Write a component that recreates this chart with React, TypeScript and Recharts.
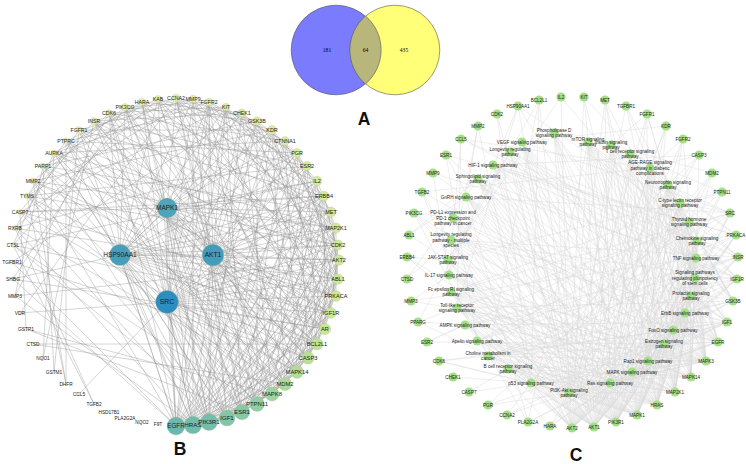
import { ScatterChart, Scatter, XAxis, YAxis, ReferenceLine } from 'recharts';

// Venn counts
const vennSets = [
  { x: 336, y: 50, label: '181', labelX: 327 },
  { x: 395, y: 50, label: '435', labelX: 404 },
];
const vennOverlap = [{ x: 365.5, y: 50, label: '64' }];
const panelLetters = [
  { x: 364, y: 125, label: 'A' },
  { x: 180, y: 455, label: 'B' },
  { x: 576, y: 461, label: 'C' },
];

// Panel B: degree sorted ring, counter-clockwise from EGFR
const bNames = ['EGFR','HRAS','PIK3R1','IGF1','ESR1','PTPN11','MAPK8','MDM2','MAPK14','CASP3','BCL2L1','AR','IGF1R','PRKACA','ABL1','AKT2','CDK2','MAP2K1','MET','ERBB4','IL2','ESR2','PGR','CTNNA1','KDR','GSK3B','CHEK1','KIT','FGFR2','MMP9','CCNA2','KAB','HARA','PIK3CG','CDK6','INSR','FGFR1','PTPRC','AURKA','PARP1','MMP2','TYMS','CASP7','RXRB','CTSL','TGFBR1','SHBG','MMP3','VDR','GSTP1','CTSD','NQO1','GSTM1','DHFR','CCL5','TGFB2','HSD17B1','PLA2G2A','NQO2','F9T'];
const bX = [176,193,209,227,242,257,272,285,297,308,317,325,331,336,338,339,338,336,331,324,317,307,297,285,272,257,242,226,209,193,176,158,142,125,109,94,79,66,54,43,33,27,20,15,13,12,13,15,20,26,33,43,54,66,79,94,109,125,142,158];
const bY = [426,425,422,418,412,404,394,384,372,358,344,329,313,296,279,260,245,228,212,196,181,166,153,141,130,121,113,107,102,99,98,99,102,107,113,121,130,141,153,166,181,196,212,228,245,262,279,296,313,329,344,358,372,384,394,404,412,418,422,424];
const bDegree = [40,39,38,35,34,32,30,28,27,26,25,23,22,22,21,21,20,20,20,19,19,18,18,17,17,16,15,14,14,14,14,13,13,13,12,12,12,11,11,10,10,9,8,8,7,6,6,5,4,4,3,2,2,1,1,0,0,0,0,0];

const bHubNames = ['MAPK1','HSP90AA1','AKT1','SRC'];
const bHubX = [167,120,213,167];
const bHubY = [208,255,255,302];
const bHubDegree = [45,48,49,52];
const bHubLinks = [
  [0,1,2,3,4,5,6,7,8,9,10,11,12,14,16,17,18,19,20,23,24,26,28,30,32,33,35,37,38,42],
  [0,1,2,3,4,5,7,9,10,11,12,13,14,15,16,17,18,19,21,22,24,25,26,27,29,31,33,34,38,39,46],
  [0,1,2,3,4,5,6,7,8,9,10,11,12,13,15,16,17,18,19,20,21,22,23,25,26,27,28,30,31,33,35,40],
  [0,1,2,3,4,5,6,7,8,9,10,11,12,13,14,15,16,17,18,19,20,22,24,25,27,28,29,32,34,37,48,54],
];
const bRingLinks = [
  [3,5,7,9,11,13,14,16,18,19,21,24,27,28,31,34,36,40,45,46],
  [3,4,6,8,10,12,15,17,20,23,25,29,33,37,43,47],
  [4,6,9,12,14,16,19,22,26,28,32,35,39,42],
  [5,7,10,13,15,18,21,24,29,34,38,41,44],
  [7,8,11,14,17,20,23,27,30,33,36,49],
  [8,10,13,16,19,22,25,28,31,35,40,44],
  [9,12,15,18,21,26,30,37,41,49],
  [10,14,17,20,24,27,32,38,43,50],
  [11,13,16,19,23,29,34,39,42],
  [12,15,18,22,25,30,33,36,45],
  [14,17,21,24,28,31,37,41,50],
  [15,19,23,26,29,35,40,46],
  [16,20,24,27,32,38,44],
  [17,21,25,30,34,39,42],
  [18,22,26,31,36,43],
  [19,23,28,33,37,47],
  [24,27,29,35,41],
  [20,25,30,38,40],
  [22,26,32,34,39],
  [27,31,36,42],
  [24,28,33,44],
  [26,30,35,41],
  [25,29,37,43],
  [28,34,38],
  [31,36,40],
  [30,33,39],
  [32,35,45],
  [34,37,42],
  [33,38],
  [36,41],
  [35,39,48],
  [37,43],
  [38,44],
  [40,46],
  [41,47],
  [42,51],
  [43,52],
  [41,53],
  [44,51],
  [47,52],
  [53],
  [53],
  [49],
  [55],
  [55],
  [],
];

// Panel C: genes clockwise from IL2
const cGenes = ['IL2','KIT','MET','TGFBR1','FGFR1','KDR','FGFR2','CASP3','MDM2','PTPN11','SRC','PRKACA','INSR','IGF1R','GSK3B','IGF1','EGFR','MAPK3','MAPK14','MAP2K1','HRAS','MAPK1','PIK3R1','AKT1','AKT2','HARA','PLA2G2A','CCNA2','PGR','CASP7','CHEK1','CDK6','ESR2','PPARG','MMP3','CTSD','ERBB4','ABL1','PIK3CG','TGFB2','MMP9','ESR1','CCL5','MMP2','CDK2','HSP90AA1','BCL2L1'];
const cGeneX = [561,584,605,626,647,666,683,699,712,722,730,736,738,737,733,727,718,706,691,675,657,637,616,594,572,550,528,507,488,469,453,439,427,418,411,407,407,409,414,422,433,446,461,478,497,518,539];
const cGeneY = [97,97,100,106,114,126,139,155,173,192,213,235,257,279,301,322,342,361,377,392,405,415,422,427,428,426,422,415,405,392,377,361,342,322,301,279,257,235,213,192,173,155,139,126,114,106,100];
const cPathways = [
  ['Phospholipase D','signaling pathway'],
  ['VEGF signaling pathway'],
  ['Longevity regulating','pathway'],
  ['HIF-1 signaling pathway'],
  ['Sphingolipid signaling','pathway'],
  ['GnRH signaling pathway'],
  ['PD-L1 expression and','PD-1 checkpoint','pathway in cancer'],
  ['Longevity regulating','pathway - multiple','species'],
  ['JAK-STAT signaling','pathway'],
  ['IL-17 signaling pathway'],
  ['Fc epsilon RI signaling','pathway'],
  ['Toll-like receptor','signaling pathway'],
  ['AMPK signaling pathway'],
  ['Apelin signaling pathway'],
  ['Choline metabolism in','cancer'],
  ['B cell receptor signaling','pathway'],
  ['p53 signaling pathway'],
  ['PI3K-Akt signaling','pathway'],
  ['Ras signaling pathway'],
  ['MAPK signaling pathway'],
  ['Rap1 signaling pathway'],
  ['Estrogen signaling','pathway'],
  ['FoxO signaling pathway'],
  ['ErbB signaling pathway'],
  ['Prolactin signaling','pathway'],
  ['Signaling pathways','regulating pluripotency','of stem cells'],
  ['TNF signaling pathway'],
  ['Chemokine signaling','pathway'],
  ['Thyroid hormone','signaling pathway'],
  ['C-type lectin receptor','signaling pathway'],
  ['Neurotrophin signaling','pathway'],
  ['AGE-RAGE signaling','pathway in diabetic','complications'],
  ['T cell receptor signaling','pathway'],
  ['Insulin signaling','pathway'],
  ['mTOR signaling','pathway'],
];
const cPathX = [554,522,510,493,478,466,453,451,448,449,451,457,465,477,488,508,531,569,610,632,648,664,673,685,691,695,696,697,689,680,668,650,630,611,588];
const cPathY = [133,142,152,165,179,197,218,240,260,275,292,308,325,341,356,369,383,393,383,372,361,344,330,313,296,278,258,241,222,203,185,168,154,145,142];
// pathways reached by each gene, same order as cGenes
const cGeneLinks = [
  [8,17,26],
  [17,18,20,29],
  [17,18,20,21,25],
  [17,22,25,28],
  [17,18,20,25,30,33],
  [1,17,18,20,31],
  [17,18,20,25,31],
  [3,16,17,26,31,14],
  [16,17,22,28,33],
  [8,10,15,18,20,32],
  [1,5,10,11,13,19,21,24,27,29,30],
  [3,13,17,19,20,21,24,26,27,28,31,33],
  [3,7,12,13,17,18,20,22,33,34,31,2,14],
  [2,3,4,7,12,14,16,17,18,20,21,22,25,28,33,34],
  [7,11,14,17,22,23,25,26,27,28,29,30,33,34],
  [2,3,7,12,14,16,17,18,20,21,22,23,24,25,30,33,34],
  [0,1,3,4,5,6,8,10,14,17,18,19,20,21,22,23,24,25,28,29,30,31,34],
  [0,1,3,4,5,6,9,10,11,12,13,14,15,16,17,18,19,20,21,22,23,24,25,26,27,28,29,30,31,32,33,34],
  [1,2,5,7,9,10,11,13,15,16,19,20,22,24,25,26,27,28,29,30,31,32,34],
  [0,1,3,4,5,6,9,10,11,13,14,15,17,18,19,20,21,22,23,24,25,26,27,28,29,30,31,32,33,34],
  [0,1,2,4,5,6,7,8,9,10,11,13,14,15,17,18,19,20,21,22,23,24,25,26,27,28,29,30,31,32,33,34],
  [0,1,3,4,5,6,9,10,11,12,13,14,15,16,17,18,19,20,21,22,23,24,25,26,27,28,29,30,31,32,33,34],
  [0,1,2,3,4,5,6,7,8,10,11,12,14,15,17,18,19,20,21,22,23,24,25,26,27,28,29,30,31,32,33,34],
  [0,1,2,3,4,6,7,8,9,10,11,12,13,14,15,16,17,18,19,20,21,22,23,24,25,26,27,28,29,30,31,32,33,34],
  [0,1,2,3,4,6,7,8,10,11,12,14,15,16,17,18,19,20,21,22,23,24,25,26,27,28,29,30,31,32,33,34],
  [14,17,19,20,26],
  [5,10,19,20,34],
  [16,17,22],
  [21,28,17],
  [16,26],
  [16],
  [14,16,17,22],
  [21,28,12],
  [2,11,12,17],
  [9,21,26],
  [4,7],
  [8,17,18],
  [8,4,5],
  [6,14,17,18,20],
  [8,16,22,31],
  [5,9,26],
  [13,21,28,17],
  [9,11,27,26,31],
  [5,9,16],
  [16,17],
  [21,17,28,9,11],
  [8,14,17,16],
];

const nodeRadius = (deg: number) => Math.max(0.2, 1 + deg * 0.2);

// yellow at low degree, green in the middle, teal at high degree, blue for hubs
const stops: [number, number[]][] = [
  [0, [255, 255, 255]],
  [4, [248, 248, 215]],
  [8, [240, 242, 185]],
  [14, [228, 238, 165]],
  [24, [198, 230, 145]],
  [32, [145, 205, 165]],
  [40, [108, 184, 174]],
  [45, [78, 165, 186]],
  [49, [66, 156, 186]],
  [52, [45, 140, 192]],
];
const degreeColor = (deg: number) => {
  let i = 0;
  while (i < stops.length - 2 && deg > stops[i + 1][0]) i++;
  const [d0, c0] = stops[i];
  const [d1, c1] = stops[i + 1];
  const t = Math.min(1, (deg - d0) / (d1 - d0));
  return `rgb(${c0.map((c, k) => Math.round(c + (c1[k] - c) * t)).join(',')})`;
};

const bNodes = bNames.map((name, i) => ({ name, x: bX[i], y: bY[i], degree: bDegree[i] }));
const bHubs = bHubNames.map((name, i) => ({ name, x: bHubX[i], y: bHubY[i], degree: bHubDegree[i] }));
const cGeneNodes = cGenes.map((name, i) => ({ x: cGeneX[i], y: cGeneY[i], lines: [name] }));
const cPathNodes = cPathways.map((lines, i) => ({ x: cPathX[i], y: cPathY[i], lines }));

const bEdges: { x: number; y: number }[][] = [];
bHubLinks.forEach((list, h) =>
  list.forEach((n) => bEdges.push([bHubs[h], bNodes[n]])),
);
bRingLinks.forEach((list, a) =>
  list.forEach((n) => bEdges.push([bNodes[a], bNodes[n]])),
);
bEdges.push([bHubs[0], bHubs[1]], [bHubs[0], bHubs[2]], [bHubs[0], bHubs[3]], [bHubs[1], bHubs[2]], [bHubs[1], bHubs[3]], [bHubs[2], bHubs[3]]);

const cEdges: { x: number; y: number }[][] = [];
cGeneLinks.forEach((list, g) =>
  list.forEach((p) => cEdges.push([cGeneNodes[g], cPathNodes[p]])),
);

const font = '"Liberation Sans", Arial, sans-serif';

function BNode(props: any) {
  const { cx, cy, payload } = props;
  const size = 4.7 + payload.degree * 0.04;
  return (
    <g>
      <circle cx={cx} cy={cy} r={nodeRadius(payload.degree)} fill={degreeColor(payload.degree)} stroke="#b5bd8a" strokeWidth={0.3} />
      <text x={cx} y={cy + size * 0.36} textAnchor="middle" fontSize={size} fontFamily={font} fill="#222">
        {payload.name}
      </text>
    </g>
  );
}

function CNode(props: any) {
  const { cx, cy, payload } = props;
  const top = cy - ((payload.lines.length - 1) * 5.6) / 2 + 1.6;
  return (
    <g>
      <circle cx={cx} cy={cy} r={4.6} fill="#a5e086" />
      {payload.lines.map((line: string, i: number) => (
        <text key={i} x={cx} y={top + i * 5.6} textAnchor="middle" fontSize={4.6} fontFamily={font} fill="#222">
          {line}
        </text>
      ))}
    </g>
  );
}

function VennCircle(props: any) {
  const { cx, cy, payload, index } = props;
  return <circle cx={cx} cy={cy} r={44.8} fill={index === 0 ? '#7b7bfd' : '#ffff78'} stroke="#555" strokeWidth={0.6} data-set={payload.label} />;
}

function VennLens(props: any) {
  const { cx, cy } = props;
  const h = 34;
  return (
    <path
      d={`M${cx},${cy - h}A44.8,44.8 0 0 1 ${cx},${cy + h}A44.8,44.8 0 0 1 ${cx},${cy - h}Z`}
      fill="#b9b67c"
      stroke="#555"
      strokeWidth={0.6}
    />
  );
}

function VennText(props: any) {
  const { cx, cy, payload } = props;
  const shift = payload.labelX != null ? payload.labelX - payload.x : 0;
  return (
    <text x={cx + shift} y={cy + 2} textAnchor="middle" fontSize={5.6} fontFamily='"Liberation Serif", serif' fill="#000">
      {payload.label}
    </text>
  );
}

function PanelLetter(props: any) {
  const { cx, cy, payload } = props;
  return (
    <text x={cx} y={cy} textAnchor="middle" fontSize={17.5} fontWeight="bold" fontFamily={font} fill="#111">
      {payload.label}
    </text>
  );
}

export default function App() {
  return (
    <div style={{ position: 'absolute', left: 0, top: 0, width: 746, height: 464, background: '#fff' }}>
      <ScatterChart width={746} height={464} margin={{ top: 0, right: 0, bottom: 0, left: 0 }}>
        <XAxis type="number" dataKey="x" domain={[0, 746]} hide />
        <YAxis type="number" dataKey="y" domain={[0, 464]} reversed hide />
        {cEdges.map((seg, i) => (
          <ReferenceLine key={`c${i}`} segment={seg} stroke="#dadada" strokeWidth={0.45} ifOverflow="visible" />
        ))}
        {bEdges.map((seg, i) => (
          <ReferenceLine key={`b${i}`} segment={seg} stroke="#949494" strokeWidth={0.4} ifOverflow="visible" />
        ))}
        <Scatter data={vennSets} shape={VennCircle} isAnimationActive={false} />
        <Scatter data={vennOverlap} shape={VennLens} isAnimationActive={false} />
        <Scatter data={[...vennSets.map((s) => ({ ...s })), ...vennOverlap]} shape={VennText} isAnimationActive={false} />
        <Scatter data={bNodes} shape={BNode} isAnimationActive={false} />
        <Scatter data={bHubs} shape={BNode} isAnimationActive={false} />
        <Scatter data={cGeneNodes} shape={CNode} isAnimationActive={false} />
        <Scatter data={cPathNodes} shape={CNode} isAnimationActive={false} />
        <Scatter data={panelLetters} shape={PanelLetter} isAnimationActive={false} />
      </ScatterChart>
    </div>
  );
}
